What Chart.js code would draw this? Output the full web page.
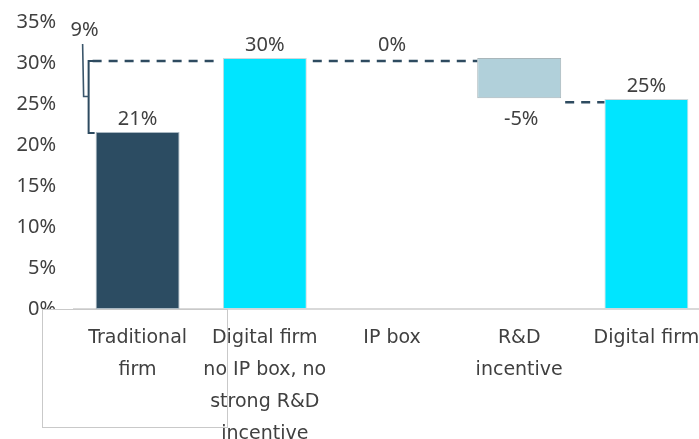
<!DOCTYPE html>
<html>
<head>
<meta charset="utf-8">
<script src="https://cdn.jsdelivr.net/npm/chart.js@4/dist/chart.umd.min.js"></script>
<style>
html,body{margin:0;padding:0;background:#fff;overflow:hidden;}
#wrap{width:712px;height:439px;}
</style>
</head>
<body>
<div id="wrap"><canvas id="c" width="712" height="439"></canvas></div>
<script>
const categories = [["Traditional","firm"],["Digital firm","no IP box, no","strong R&D","incentive"],"IP box",["R&D","incentive"],"Digital firm"];
const barStart = [0, 0, 30.6, 25.7, 0];
const barEnd = [21.6, 30.6, 30.6, 30.6, 25.6];
const valueLabels = ["21%","30%","0%","-5%","25%"];
const stepLabel = "9%";
const barColors = ["#2C4C62","#00E5FF","rgba(0,0,0,0)","#B1D0DA","#00E5FF"];
const yMax = 35, yStep = 5;

const TXT = '#404040';
const LINE = '#2E4B60';
const NUMFONT = '"Noto Sans"';

const overlay = {
  id: 'overlay',
  afterDatasetsDraw(chart) {
    const ctx = chart.ctx;
    const ys = chart.scales.y;
    const bars = chart.getDatasetMeta(0).data;
    const left = i => bars[i].x - bars[i].width / 2;
    const right = i => bars[i].x + bars[i].width / 2;
    ctx.save();
    const yLevel = ys.getPixelForValue(barEnd[1]) + 3;
    const yFirst = ys.getPixelForValue(barEnd[0]);
    const bx = left(0) - 7;
    ctx.strokeStyle = LINE;
    ctx.lineWidth = 2;
    ctx.setLineDash([]);
    ctx.beginPath();
    ctx.moveTo(bx + 5, yLevel);
    ctx.lineTo(bx, yLevel);
    ctx.lineTo(bx, yFirst + 1);
    ctx.lineTo(left(0) - 1, yFirst + 1);
    ctx.stroke();
    const midY = (yLevel + yFirst) / 2;
    ctx.lineWidth = 1.6;
    ctx.strokeStyle = '#3B566B';
    ctx.beginPath();
    ctx.moveTo(bx - 6, yLevel - 17);
    ctx.lineTo(bx - 5, midY);
    ctx.lineTo(bx, midY);
    ctx.stroke();
    ctx.strokeStyle = LINE;
    ctx.lineWidth = 2.5;
    ctx.setLineDash([9, 7]);
    ctx.beginPath();
    ctx.moveTo(bx + 4, yLevel);
    ctx.lineTo(left(1) - 7, yLevel);
    ctx.stroke();
    ctx.beginPath();
    ctx.moveTo(right(1) + 6, yLevel);
    ctx.lineTo(left(3), yLevel);
    ctx.stroke();
    const yLow = ys.getPixelForValue(barStart[3]) + 4;
    ctx.beginPath();
    ctx.moveTo(right(3) + 4, yLow);
    ctx.lineTo(left(4), yLow);
    ctx.stroke();
    ctx.setLineDash([]);
    ctx.font = '20px ' + NUMFONT;
    ctx.fillStyle = TXT;
    ctx.textAlign = 'center';
    ctx.textBaseline = 'middle';
    for (let i = 0; i < valueLabels.length; i++) {
      if (i === 3) {
        ctx.fillText(valueLabels[i], bars[i].x + 2, ys.getPixelForValue(barStart[i]) + 21);
      } else {
        ctx.fillText(valueLabels[i], bars[i].x, ys.getPixelForValue(barEnd[i]) - 13);
      }
    }
    ctx.fillText(stepLabel, bx - 4, yLevel - 31);
    ctx.restore();
  },
  afterDraw(chart) {
    const ctx = chart.ctx;
    ctx.save();
    ctx.fillStyle = '#fff';
    ctx.fillRect(42.5, 310, 30, 16);
    ctx.strokeStyle = '#c9c9c9';
    ctx.lineWidth = 1;
    ctx.strokeRect(42.5, 309.5, 185, 118);
    ctx.restore();
  }
};

new Chart(document.getElementById('c'), {
  type: 'bar',
  data: {
    labels: categories,
    datasets: [{
      data: barStart.map((s, i) => [s, barEnd[i]]),
      backgroundColor: barColors,
      borderColor: ['#aab8c2','#cfd8dc','rgba(0,0,0,0)','#a9b6ba','#cfd8dc'],
      borderWidth: 1,
      borderSkipped: false,
      categoryPercentage: 1,
      barPercentage: 0.66
    }]
  },
  options: {
    responsive: false,
    animation: false,
    devicePixelRatio: 1,
    layout: { padding: { top: 21, right: 2, left: 0, bottom: 0 } },
    plugins: { legend: { display: false }, tooltip: { enabled: false } },
    scales: {
      x: {
        grid: { display: false },
        border: { display: true, color: '#d9d9d9', width: 2 },
        ticks: {
          color: TXT,
          font: { family: '"DejaVu Sans"', size: 19, lineHeight: 1.68 },
          padding: 5,
          maxRotation: 0,
          autoSkip: false
        },
        afterFit(s) { s.height = 130; }
      },
      y: {
        min: 0, max: yMax,
        grid: { display: false },
        border: { display: false },
        ticks: {
          stepSize: yStep,
          color: TXT,
          font: { family: NUMFONT, size: 20 },
          padding: 10,
          callback: v => v + '%'
        },
        afterFit(s) { s.width = 74; }
      }
    }
  },
  plugins: [overlay]
});
</script>
</body>
</html>
